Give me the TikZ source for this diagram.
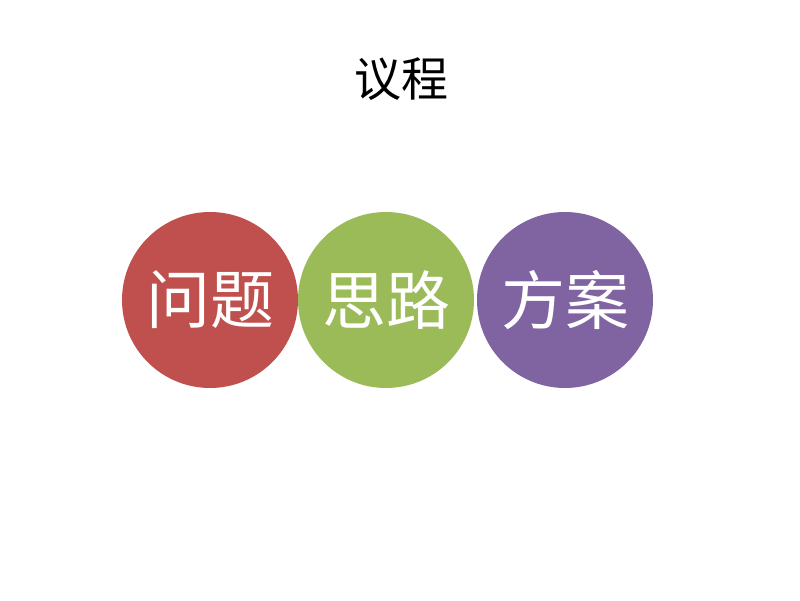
\documentclass[tikz,border=0pt]{standalone}
\usepackage{fontspec}
\newfontfamily\cjk{Noto Sans CJK SC}
\definecolor{wenti}{HTML}{C0504D}
\definecolor{silu}{HTML}{9BBB59}
\definecolor{fangan}{HTML}{8064A2}
\begin{document}
\begin{tikzpicture}[x=1pt,y=1pt,
    topic/.style={circle,minimum size=176pt,inner sep=0pt,text=white,font=\cjk\fontsize{64}{66}\selectfont}]
  \useasboundingbox (0,0) rectangle (800,600);
  \node[font=\cjk\fontsize{47}{50}\selectfont] (title) at (401,521) {议程};
  \draw
    (210,300) node[topic,fill=wenti] (0){问题}
    (386,300) node[topic,fill=silu] (1){思路}
    (565,300) node[topic,fill=fangan] (2){方案};
\end{tikzpicture}
\end{document}
